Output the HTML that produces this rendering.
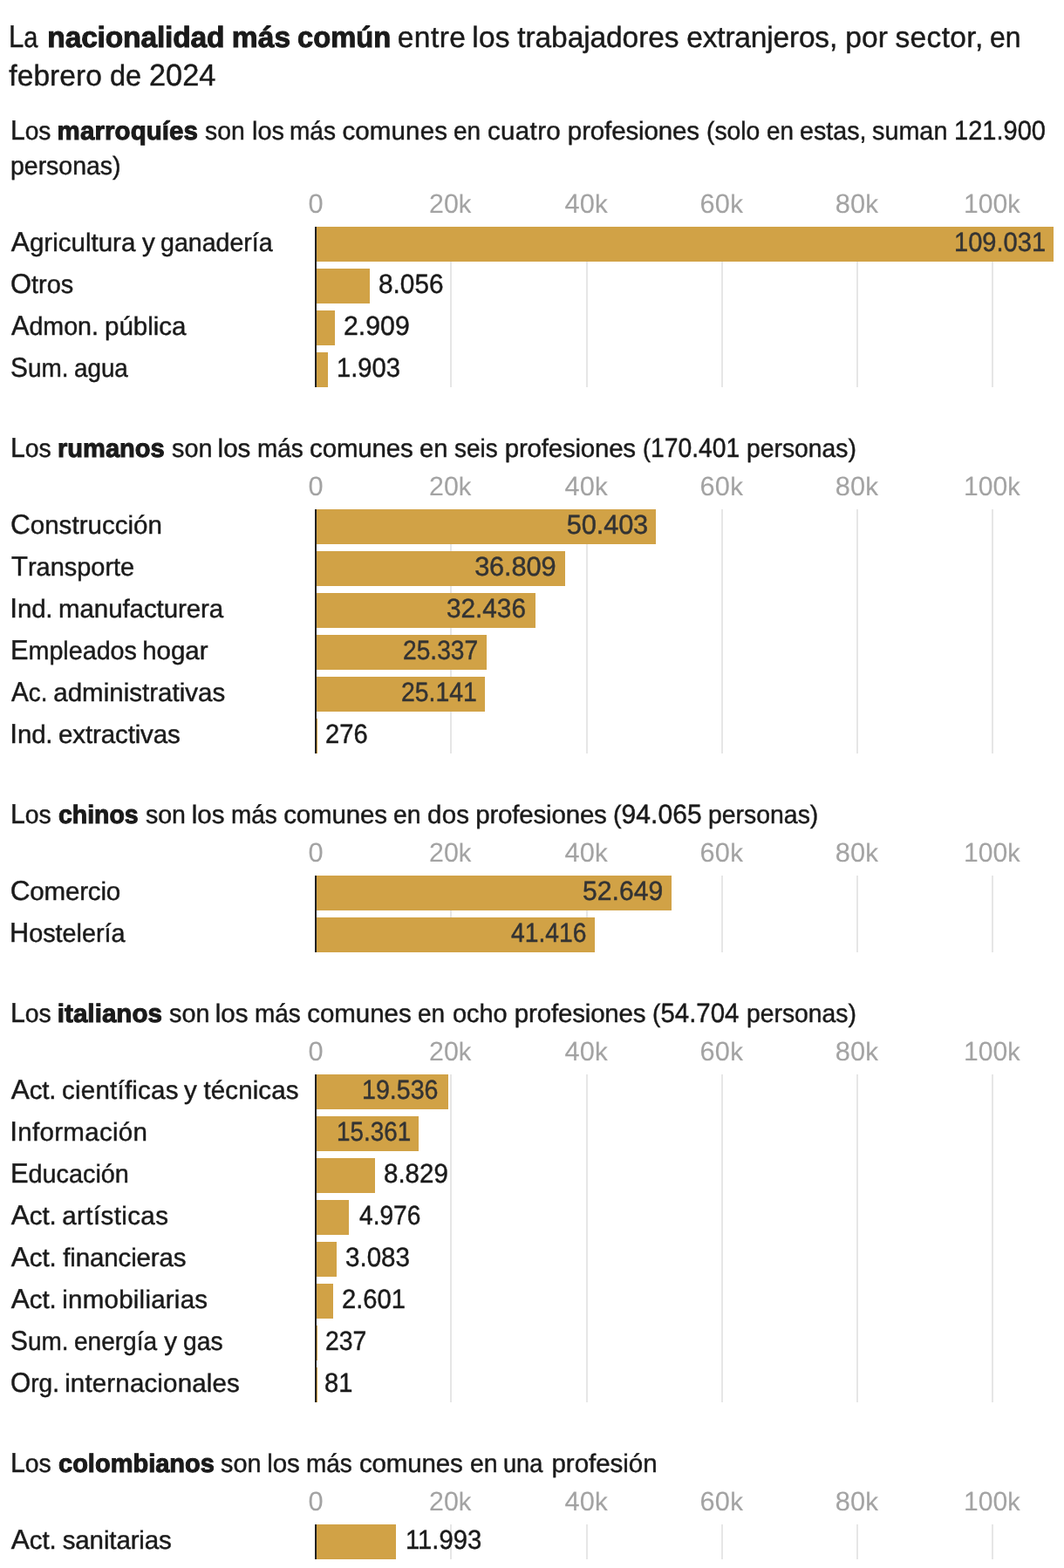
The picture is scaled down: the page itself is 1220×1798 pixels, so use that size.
<!DOCTYPE html>
<html lang="es">
<head>
<meta charset="utf-8">
<title>La nacionalidad más común entre los trabajadores extranjeros, por sector</title>
<style>
html,body{margin:0;padding:0;background:#fff}
body{width:1220px;height:1798px;position:relative;overflow:hidden;font-family:"Liberation Sans",Arial,sans-serif;color:#1a1a1a}
#chart{position:absolute;left:0;top:0;width:1220px;height:1798px}
h1,h2{margin:0;font-weight:400;font-size:inherit}
.w{position:absolute;transform-origin:0 0;white-space:pre;line-height:40px;font-weight:400;font-size:29.5px;text-rendering:geometricPrecision;-webkit-text-stroke:0.45px}
h1 .w{font-size:33.5px}
b.w{font-weight:700;-webkit-text-stroke:1.0px}
.w .c{font-size:1.07em;line-height:0}
.w .n{font-size:1.044em;line-height:0}
.lbl{font-size:29.5px}
.val{font-size:29.5px}
.val.in{color:#333333}
.tick{font-size:29.5px;color:#a3a3a3;-webkit-text-stroke:0.1px}
.grid{position:absolute;left:0;width:1220px}
.grid i{position:absolute;top:0;width:2px;height:100%;background:#e6e6e6}
.axis{position:absolute;left:361px;width:2px;background:#222222}
.bar{position:absolute;left:362px;height:40px;background:#d1a246}
</style>
</head>
<body>
<div id="chart">
<h1>
<span class="w" style="left:10.35px;top:24px;transform:scaleX(0.8639)"><span class="c">L</span>a</span> <b class="w" style="left:54.32px;top:24px;letter-spacing:-0.14px">nacionalidad</b> <b class="w" style="left:265.82px;top:24px;letter-spacing:0.09px">más</b> <b class="w" style="left:340.56px;top:24px;transform:scaleX(0.9754)">común</b> <span class="w" style="left:455.77px;top:24px;letter-spacing:0.46px">entre</span> <span class="w" style="left:541.23px;top:24px;letter-spacing:0.28px">los</span> <span class="w" style="left:593.28px;top:24px;letter-spacing:-0.09px">trabajadores</span> <span class="w" style="left:787.27px;top:24px;letter-spacing:-0.19px">extranjeros,</span> <span class="w" style="left:969.13px;top:24px;letter-spacing:0.14px">por</span> <span class="w" style="left:1026.4px;top:24px;letter-spacing:0.37px">sector,</span> <span class="w" style="left:1135.33px;top:24px;transform:scaleX(0.9530)">en</span>
<span class="w" style="left:10.3px;top:68px;letter-spacing:0.07px">febrero</span> <span class="w" style="left:126.04px;top:68px;transform:scaleX(0.9689)">de</span> <span class="w" style="left:171.15px;top:68px;transform:scaleX(0.9810)"><span class="n">2024</span></span>
</h1>
<section>
<h2>
<span class="w" style="left:11.74px;top:131px;transform:scaleX(0.9530)"><span class="c">L</span>os</span> <b class="w" style="left:65.62px;top:131px;letter-spacing:0.08px">marroquíes</b> <span class="w" style="left:235.06px;top:131px;transform:scaleX(0.9601)">son</span> <span class="w" style="left:288.53px;top:131px;transform:scaleX(0.9774)">los</span> <span class="w" style="left:332.25px;top:131px;transform:scaleX(0.9499)">más</span> <span class="w" style="left:392.38px;top:131px;letter-spacing:0.15px">comunes</span> <span class="w" style="left:520.44px;top:131px;transform:scaleX(0.9505)">en</span> <span class="w" style="left:558.98px;top:131px;letter-spacing:0.35px">cuatro</span> <span class="w" style="left:650.86px;top:131px;letter-spacing:-0.14px">profesiones</span> <span class="w" style="left:809.79px;top:131px;transform:scaleX(0.9590)">(solo</span> <span class="w" style="left:879.04px;top:131px;transform:scaleX(0.9439)">en</span> <span class="w" style="left:916.91px;top:131px;transform:scaleX(0.9710)">estas,</span> <span class="w" style="left:1000.35px;top:131px;transform:scaleX(0.9756)">suman</span> <span class="w" style="left:1093.51px;top:131px;transform:scaleX(0.9433)"><span class="n">121.900</span></span>
<span class="w" style="left:12.32px;top:171px;transform:scaleX(0.9645)">personas)</span>
</h2>
<div class="ticks"><span class="w tick" style="left:353.47px;top:215px"><span class="n">0</span></span> <span class="w tick" style="left:492.37px;top:215px;transform:scaleX(0.9859)"><span class="n">20</span>k</span> <span class="w tick" style="left:647.51px;top:215px;letter-spacing:0.14px"><span class="n">40</span>k</span> <span class="w tick" style="left:802.39px;top:215px;letter-spacing:0.25px"><span class="n">60</span>k</span> <span class="w tick" style="left:957.67px;top:215px;letter-spacing:0.16px"><span class="n">80</span>k</span> <span class="w tick" style="left:1105.37px;top:215px;transform:scaleX(0.9789)"><span class="n">100</span>k</span></div>
<div class="grid" style="top:260px;height:184px"><i style="left:516px"></i><i style="left:672px"></i><i style="left:827px"></i><i style="left:982px"></i><i style="left:1137px"></i></div>
<div class="row"><span class="w lbl" style="left:12.83px;top:259px;letter-spacing:0.01px"><span class="c">A</span>gricultura</span> <span class="w lbl" style="left:163.11px;top:259px">y</span> <span class="w lbl" style="left:184.23px;top:259px;transform:scaleX(0.9687)">ganadería</span><div class="bar" style="top:260px;width:846px"></div><span class="w val in" style="left:1094.11px;top:259px;transform:scaleX(0.9443)"><span class="n">109.031</span></span></div>
<div class="row"><span class="w lbl" style="left:11.88px;top:307px;transform:scaleX(0.9796)"><span class="c">O</span>tros</span><div class="bar" style="top:308px;width:62px"></div><span class="w val" style="left:434.15px;top:307px;transform:scaleX(0.9688)"><span class="n">8.056</span></span></div>
<div class="row"><span class="w lbl" style="left:12.83px;top:355px;transform:scaleX(0.9700)"><span class="c">A</span>dmon.</span> <span class="w lbl" style="left:120.06px;top:355px;letter-spacing:-0.04px">pública</span><div class="bar" style="top:356px;width:22px"></div><span class="w val" style="left:393.99px;top:355px;transform:scaleX(0.9832)"><span class="n">2.909</span></span></div>
<div class="row"><span class="w lbl" style="left:11.97px;top:403px;transform:scaleX(0.9467)"><span class="c">S</span>um.</span> <span class="w lbl" style="left:85.24px;top:403px;transform:scaleX(0.9413)">agua</span><div class="bar" style="top:404px;width:14px"></div><span class="w val" style="left:386.4px;top:403px;transform:scaleX(0.9469)"><span class="n">1.903</span></span></div>
<div class="axis" style="top:260px;height:184px"></div>
</section>
<section>
<h2>
<span class="w" style="left:11.83px;top:495px;transform:scaleX(0.9596)"><span class="c">L</span>os</span> <b class="w" style="left:65.94px;top:495px;transform:scaleX(0.9849)">rumanos</b> <span class="w" style="left:196.55px;top:495px;transform:scaleX(0.9756)">son</span> <span class="w" style="left:249.59px;top:495px">los</span> <span class="w" style="left:294.75px;top:495px;transform:scaleX(0.9461)">más</span> <span class="w" style="left:355.08px;top:495px;letter-spacing:-0.16px">comunes</span> <span class="w" style="left:480.99px;top:495px;transform:scaleX(0.9872)">en</span> <span class="w" style="left:521.17px;top:495px;transform:scaleX(0.9452)">seis</span> <span class="w" style="left:578.76px;top:495px;letter-spacing:-0.22px">profesiones</span> <span class="w" style="left:736.85px;top:495px;transform:scaleX(0.9193)">(<span class="n">170.401</span></span> <span class="w" style="left:855.53px;top:495px;transform:scaleX(0.9591)">personas)</span>
</h2>
<div class="ticks"><span class="w tick" style="left:353.47px;top:539px"><span class="n">0</span></span> <span class="w tick" style="left:492.37px;top:539px;transform:scaleX(0.9859)"><span class="n">20</span>k</span> <span class="w tick" style="left:647.51px;top:539px;letter-spacing:0.14px"><span class="n">40</span>k</span> <span class="w tick" style="left:802.39px;top:539px;letter-spacing:0.25px"><span class="n">60</span>k</span> <span class="w tick" style="left:957.67px;top:539px;letter-spacing:0.16px"><span class="n">80</span>k</span> <span class="w tick" style="left:1105.37px;top:539px;transform:scaleX(0.9789)"><span class="n">100</span>k</span></div>
<div class="grid" style="top:584px;height:280px"><i style="left:516px"></i><i style="left:672px"></i><i style="left:827px"></i><i style="left:982px"></i><i style="left:1137px"></i></div>
<div class="row"><span class="w lbl" style="left:11.9px;top:583px;letter-spacing:0.04px"><span class="c">C</span>onstrucción</span><div class="bar" style="top:584px;width:390px"></div><span class="w val in" style="left:649.79px;top:583px;letter-spacing:-0.14px"><span class="n">50.403</span></span></div>
<div class="row"><span class="w lbl" style="left:12.87px;top:631px;transform:scaleX(0.9808)"><span class="c">T</span>ransporte</span><div class="bar" style="top:632px;width:286px"></div><span class="w val in" style="left:544.13px;top:631px;letter-spacing:-0.14px"><span class="n">36.809</span></span></div>
<div class="row"><span class="w lbl" style="left:11.33px;top:679px;letter-spacing:-0.18px"><span class="c">I</span>nd.</span> <span class="w lbl" style="left:67.06px;top:679px;letter-spacing:-0.09px">manufacturera</span><div class="bar" style="top:680px;width:252px"></div><span class="w val in" style="left:512.37px;top:679px;transform:scaleX(0.9657)"><span class="n">32.436</span></span></div>
<div class="row"><span class="w lbl" style="left:11.7px;top:727px;transform:scaleX(0.9728)"><span class="c">E</span>mpleados</span> <span class="w lbl" style="left:163.13px;top:727px;letter-spacing:-0.02px">hogar</span><div class="bar" style="top:728px;width:196px"></div><span class="w val in" style="left:462.28px;top:727px;transform:scaleX(0.9145)"><span class="n">25.337</span></span></div>
<div class="row"><span class="w lbl" style="left:12.84px;top:775px;transform:scaleX(0.9395)"><span class="c">A</span>c.</span> <span class="w lbl" style="left:61.27px;top:775px;letter-spacing:0.02px">administrativas</span><div class="bar" style="top:776px;width:194px"></div><span class="w val in" style="left:460.47px;top:775px;transform:scaleX(0.9227)"><span class="n">25.141</span></span></div>
<div class="row"><span class="w lbl" style="left:11.33px;top:823px;letter-spacing:-0.18px"><span class="c">I</span>nd.</span> <span class="w lbl" style="left:67.08px;top:823px;letter-spacing:-0.13px">extractivas</span><div class="bar" style="top:824px;width:2px"></div><span class="w val" style="left:373.13px;top:823px;transform:scaleX(0.9484)"><span class="n">276</span></span></div>
<div class="axis" style="top:584px;height:280px"></div>
</section>
<section>
<h2>
<span class="w" style="left:11.83px;top:915px;transform:scaleX(0.9596)"><span class="c">L</span>os</span> <b class="w" style="left:66.67px;top:915px;transform:scaleX(0.9644)">chinos</b> <span class="w" style="left:166.65px;top:915px;transform:scaleX(0.9667)">son</span> <span class="w" style="left:219.69px;top:915px">los</span> <span class="w" style="left:264.85px;top:915px;transform:scaleX(0.9461)">más</span> <span class="w" style="left:325.18px;top:915px;letter-spacing:-0.16px">comunes</span> <span class="w" style="left:451.12px;top:915px;transform:scaleX(0.9605)">en</span> <span class="w" style="left:489.99px;top:915px;letter-spacing:0.27px">dos</span> <span class="w" style="left:545.16px;top:915px;letter-spacing:-0.18px">profesiones</span> <span class="w" style="left:703.16px;top:915px;transform:scaleX(0.9780)">(<span class="n">94.065</span></span> <span class="w" style="left:812.42px;top:915px;transform:scaleX(0.9630)">personas)</span>
</h2>
<div class="ticks"><span class="w tick" style="left:353.47px;top:959px"><span class="n">0</span></span> <span class="w tick" style="left:492.37px;top:959px;transform:scaleX(0.9859)"><span class="n">20</span>k</span> <span class="w tick" style="left:647.51px;top:959px;letter-spacing:0.14px"><span class="n">40</span>k</span> <span class="w tick" style="left:802.39px;top:959px;letter-spacing:0.25px"><span class="n">60</span>k</span> <span class="w tick" style="left:957.67px;top:959px;letter-spacing:0.16px"><span class="n">80</span>k</span> <span class="w tick" style="left:1105.37px;top:959px;transform:scaleX(0.9789)"><span class="n">100</span>k</span></div>
<div class="grid" style="top:1004px;height:88px"><i style="left:516px"></i><i style="left:672px"></i><i style="left:827px"></i><i style="left:982px"></i><i style="left:1137px"></i></div>
<div class="row"><span class="w lbl" style="left:11.7px;top:1003px;letter-spacing:-0.17px"><span class="c">C</span>omercio</span><div class="bar" style="top:1004px;width:408px"></div><span class="w val in" style="left:668.31px;top:1003px;transform:scaleX(0.9796)"><span class="n">52.649</span></span></div>
<div class="row"><span class="w lbl" style="left:11.4px;top:1051px;transform:scaleX(0.9741)"><span class="c">H</span>ostelería</span><div class="bar" style="top:1052px;width:320px"></div><span class="w val in" style="left:586.4px;top:1051px;transform:scaleX(0.9180)"><span class="n">41.416</span></span></div>
<div class="axis" style="top:1004px;height:88px"></div>
</section>
<section>
<h2>
<span class="w" style="left:11.83px;top:1143px;transform:scaleX(0.9596)"><span class="c">L</span>os</span> <b class="w" style="left:65.78px;top:1143px;letter-spacing:0.06px">italianos</b> <span class="w" style="left:193.75px;top:1143px;transform:scaleX(0.9756)">son</span> <span class="w" style="left:246.79px;top:1143px">los</span> <span class="w" style="left:291.95px;top:1143px;transform:scaleX(0.9461)">más</span> <span class="w" style="left:352.28px;top:1143px;letter-spacing:-0.05px">comunes</span> <span class="w" style="left:478.94px;top:1143px;transform:scaleX(0.9472)">en</span> <span class="w" style="left:518.71px;top:1143px;transform:scaleX(0.9793)">ocho</span> <span class="w" style="left:589.86px;top:1143px;letter-spacing:-0.18px">profesiones</span> <span class="w" style="left:748.29px;top:1143px;transform:scaleX(0.9565)">(<span class="n">54.704</span></span> <span class="w" style="left:855.53px;top:1143px;transform:scaleX(0.9591)">personas)</span>
</h2>
<div class="ticks"><span class="w tick" style="left:353.47px;top:1187px"><span class="n">0</span></span> <span class="w tick" style="left:492.37px;top:1187px;transform:scaleX(0.9859)"><span class="n">20</span>k</span> <span class="w tick" style="left:647.51px;top:1187px;letter-spacing:0.14px"><span class="n">40</span>k</span> <span class="w tick" style="left:802.39px;top:1187px;letter-spacing:0.25px"><span class="n">60</span>k</span> <span class="w tick" style="left:957.67px;top:1187px;letter-spacing:0.16px"><span class="n">80</span>k</span> <span class="w tick" style="left:1105.37px;top:1187px;transform:scaleX(0.9789)"><span class="n">100</span>k</span></div>
<div class="grid" style="top:1232px;height:376px"><i style="left:516px"></i><i style="left:672px"></i><i style="left:827px"></i><i style="left:982px"></i><i style="left:1137px"></i></div>
<div class="row"><span class="w lbl" style="left:12.83px;top:1231px;letter-spacing:-0.16px"><span class="c">A</span>ct.</span> <span class="w lbl" style="left:71.08px;top:1231px;letter-spacing:0.22px">científicas</span> <span class="w lbl" style="left:210.96px;top:1231px">y</span> <span class="w lbl" style="left:233.4px;top:1231px;letter-spacing:0.13px">técnicas</span><div class="bar" style="top:1232px;width:152px"></div><span class="w val in" style="left:415.24px;top:1231px;transform:scaleX(0.9294)"><span class="n">19.536</span></span></div>
<div class="row"><span class="w lbl" style="left:11.23px;top:1279px;letter-spacing:0.3px"><span class="c">I</span>nformación</span><div class="bar" style="top:1280px;width:118px"></div><span class="w val in" style="left:385.89px;top:1279px;transform:scaleX(0.9041)"><span class="n">15.361</span></span></div>
<div class="row"><span class="w lbl" style="left:11.89px;top:1327px;transform:scaleX(0.9762)"><span class="c">E</span>ducación</span><div class="bar" style="top:1328px;width:68px"></div><span class="w val" style="left:440.07px;top:1327px;transform:scaleX(0.9585)"><span class="n">8.829</span></span></div>
<div class="row"><span class="w lbl" style="left:12.83px;top:1375px;letter-spacing:-0.12px"><span class="c">A</span>ct.</span> <span class="w lbl" style="left:71.27px;top:1375px;letter-spacing:0.4px">artísticas</span><div class="bar" style="top:1376px;width:38px"></div><span class="w val" style="left:411.5px;top:1375px;transform:scaleX(0.9141)"><span class="n">4.976</span></span></div>
<div class="row"><span class="w lbl" style="left:12.83px;top:1423px;letter-spacing:-0.12px"><span class="c">A</span>ct.</span> <span class="w lbl" style="left:72.21px;top:1423px;letter-spacing:-0.13px">financieras</span><div class="bar" style="top:1424px;width:24px"></div><span class="w val" style="left:395.68px;top:1423px;transform:scaleX(0.9604)"><span class="n">3.083</span></span></div>
<div class="row"><span class="w lbl" style="left:12.83px;top:1471px;letter-spacing:-0.12px"><span class="c">A</span>ct.</span> <span class="w lbl" style="left:71.33px;top:1471px;letter-spacing:0.23px">inmobiliarias</span><div class="bar" style="top:1472px;width:20px"></div><span class="w val" style="left:391.73px;top:1471px;transform:scaleX(0.9479)"><span class="n">2.601</span></span></div>
<div class="row"><span class="w lbl" style="left:11.97px;top:1519px;transform:scaleX(0.9467)"><span class="c">S</span>um.</span> <span class="w lbl" style="left:85.24px;top:1519px;transform:scaleX(0.9502)">energía</span> <span class="w lbl" style="left:188.36px;top:1519px">y</span> <span class="w lbl" style="left:209.84px;top:1519px;transform:scaleX(0.9570)">gas</span><div class="bar" style="top:1520px;width:2px"></div><span class="w val" style="left:373.37px;top:1519px;transform:scaleX(0.9207)"><span class="n">237</span></span></div>
<div class="row"><span class="w lbl" style="left:12.12px;top:1567px;transform:scaleX(0.9487)"><span class="c">O</span>rg.</span> <span class="w lbl" style="left:74.13px;top:1567px;letter-spacing:0.16px">internacionales</span><div class="bar" style="top:1568px;width:2px"></div><span class="w val" style="left:371.88px;top:1567px;transform:scaleX(0.9453)"><span class="n">81</span></span></div>
<div class="axis" style="top:1232px;height:376px"></div>
</section>
<section>
<h2>
<span class="w" style="left:11.83px;top:1659px;transform:scaleX(0.9596)"><span class="c">L</span>os</span> <b class="w" style="left:66.65px;top:1659px;transform:scaleX(0.9834)">colombianos</b> <span class="w" style="left:253.15px;top:1659px;transform:scaleX(0.9756)">son</span> <span class="w" style="left:306.19px;top:1659px;letter-spacing:-0.05px">los</span> <span class="w" style="left:351.35px;top:1659px;transform:scaleX(0.9461)">más</span> <span class="w" style="left:411.88px;top:1659px;letter-spacing:-0.15px">comunes</span> <span class="w" style="left:538.72px;top:1659px;transform:scaleX(0.9639)">en</span> <span class="w" style="left:577.34px;top:1659px;transform:scaleX(0.9210)">una</span> <span class="w" style="left:632.46px;top:1659px;letter-spacing:-0.02px">profesión</span>
</h2>
<div class="ticks"><span class="w tick" style="left:353.47px;top:1703px"><span class="n">0</span></span> <span class="w tick" style="left:492.37px;top:1703px;transform:scaleX(0.9859)"><span class="n">20</span>k</span> <span class="w tick" style="left:647.51px;top:1703px;letter-spacing:0.14px"><span class="n">40</span>k</span> <span class="w tick" style="left:802.39px;top:1703px;letter-spacing:0.25px"><span class="n">60</span>k</span> <span class="w tick" style="left:957.67px;top:1703px;letter-spacing:0.16px"><span class="n">80</span>k</span> <span class="w tick" style="left:1105.37px;top:1703px;transform:scaleX(0.9789)"><span class="n">100</span>k</span></div>
<div class="grid" style="top:1748px;height:40px"><i style="left:516px"></i><i style="left:672px"></i><i style="left:827px"></i><i style="left:982px"></i><i style="left:1137px"></i></div>
<div class="row"><span class="w lbl" style="left:12.83px;top:1747px;letter-spacing:-0.12px"><span class="c">A</span>ct.</span> <span class="w lbl" style="left:71.73px;top:1747px;letter-spacing:-0.13px">sanitarias</span><div class="bar" style="top:1748px;width:92px"></div><span class="w val" style="left:464.79px;top:1747px;transform:scaleX(0.9506)"><span class="n">11.993</span></span></div>
<div class="axis" style="top:1748px;height:40px"></div>
</section>
</div>
</body>
</html>
